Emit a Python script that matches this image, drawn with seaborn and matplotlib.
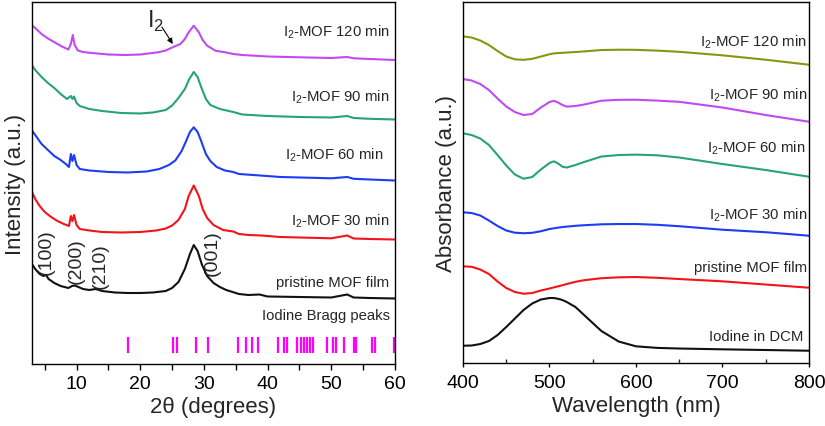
"""
XRD patterns and UV-vis spectra of iodine loaded MOF films
"""

# Libraries
import seaborn as sns
import matplotlib.pyplot as plt
from matplotlib.ticker import MultipleLocator

# ---------------------------------
# Data (arbitrary units with offsets)
# ---------------------------------
# XRD: pristine MOF film
xrd_pristine_x = [3.0, 3.5, 4.2, 4.8, 5.2, 5.6, 6.5, 7.5, 8.7, 9.3, 9.7, 10.3, 11, 12, 13, 14,
                  16, 18, 20, 22, 24, 25, 26, 27, 27.8, 28.4, 29, 29.7, 30.5, 31.5, 32.5,
                  33.5, 34.5, 35.5, 37, 38.7, 40, 45, 50, 52.5, 53.5, 56, 60]
xrd_pristine_y = [100, 95, 90, 88, 89, 85, 81, 78, 76, 78, 78.5, 77, 75, 74, 75, 73,
                  71.5, 71, 71, 71.5, 73, 76, 82, 95, 110, 119, 113, 99, 88, 81, 77,
                  74, 72, 70, 69, 69.5, 67.5, 67, 66.5, 69.5, 66.5, 66, 65.5]

# XRD: I2-MOF 30 min
xrd_30_x = [3.0, 3.5, 4.2, 5.0, 6.0, 7.0, 8.0, 8.8, 9.1, 9.35, 9.6, 10.0, 10.5, 12, 14, 17,
            20, 22.5, 24, 25, 26, 27, 27.6, 28.4, 29.2, 29.8, 30.5, 31.5, 33, 34.6, 35.5,
            37, 39, 42, 45, 50, 52.5, 53.5, 56, 60]
xrd_30_y = [172, 165, 158, 152, 147, 143, 140, 138, 148, 143, 149, 139, 135, 133.5, 132, 131.5,
            132, 133.5, 135.5, 138.5, 144, 155, 168, 178.5, 168, 155, 146, 139, 134, 132.5, 130,
            129, 128.5, 127, 126.5, 125.7, 128.5, 125.5, 125, 124.5]

# XRD: I2-MOF 60 min
xrd_60_x = [3.0, 3.5, 4.5, 5.5, 6.5, 7.5, 8.3, 8.8, 9.1, 9.35, 9.6, 10.0, 10.5, 12, 15, 18,
            21, 23, 24.5, 25.5, 26.5, 27.2, 27.8, 28.4, 29, 29.5, 30.3, 31, 32, 33.3, 34.6,
            35.5, 38.8, 42, 47, 50, 52.5, 53.5, 56, 60]
xrd_60_y = [233.5, 229, 220, 214, 208, 204, 200, 197, 210, 203, 209, 199, 195, 193.5, 192, 191.5,
            192.5, 195, 199, 203.5, 213, 223, 232, 236.7, 232, 224, 210, 203, 197, 193.5, 192,
            190, 188.5, 187, 186.2, 185.7, 187, 185.2, 184.5, 183.5]

# XRD: I2-MOF 90 min
xrd_90_x = [3.0, 3.5, 4.5, 5.5, 6.5, 7.5, 8.5, 9.1, 9.35, 9.6, 10.0, 10.5, 12, 14, 17, 20,
            22, 24, 25, 26, 27, 27.7, 28.4, 29, 29.5, 30.3, 31, 32.5, 34.6, 36, 40, 45,
            50, 52.5, 53.5, 56, 60]
xrd_90_y = [298.5, 294, 287, 281, 276, 270, 265, 268, 265, 267.5, 261, 258, 255, 253, 251, 250.5,
            251.5, 254, 258.5, 266, 275, 285, 292, 287, 278, 265, 259, 255, 252, 249.5, 248, 247,
            246.5, 248, 246, 245.2, 244.5]

# XRD: I2-MOF 120 min
xrd_120_x = [3.0, 3.5, 4.5, 5.5, 6.6, 7.7, 8.7, 9.1, 9.4, 9.7, 10.2, 11, 12.4, 15, 17.6, 20,
             22.8, 24, 25, 26.3, 27, 27.6, 28.4, 29.2, 29.8, 30.5, 31.8, 33.3, 34.6, 36, 40,
             45, 50, 52.5, 53.5, 56, 60]
xrd_120_y = [338.5, 336, 330, 325.5, 321.5, 317.5, 314.5, 320, 329, 319, 313.5, 312, 311, 309.5, 309, 309.5,
             311.7, 313.5, 316.5, 320, 325, 331.7, 338.3, 331.7, 324, 318.3, 313.3, 311.7, 310, 309, 307.5,
             306.7, 306, 307, 305.7, 305, 304]

# Iodine Bragg peak positions (2theta, degrees)
bragg_peaks = [18.1, 25.2, 25.7, 28.7, 30.7, 35.4, 36.6, 37.5, 38.5, 41.7, 42.6, 43.1,
               44.6, 45.3, 45.7, 46.2, 46.7, 47.2, 49.3, 50.3, 50.7, 52.0, 53.5, 53.9,
               56.4, 56.9, 59.8]

# UV-vis wavelength grid shared by the absorbance curves (nm)
wl = [400, 410, 420, 430, 440, 450, 460, 470, 480, 490, 500, 505, 510, 515, 520,
      530, 540, 560, 580, 600, 625, 650, 700, 750, 800]

# Absorbance curves (offset)
abs_120 = [326.7, 325.5, 322.5, 318, 312, 306.5, 303.7, 303.2, 304.2, 306.5, 308.8, 309.6, 310,
           310.2, 310.5, 311, 311.6, 313, 313.3, 313.2, 312.4, 311.2, 307.7, 303.3, 298.3]
abs_90 = [284, 282.5, 279, 273, 264.5, 256.5, 251, 248, 249, 255.5, 261, 262.2, 260.5,
          258, 256.4, 257, 258.5, 262.3, 263.2, 263.3, 262.4, 261.2, 255.5, 248, 241.3]
abs_60 = [229.7, 228, 224.5, 218, 208, 197.5, 188.5, 184.3, 186, 193.5, 200, 201.7, 199.5,
          196.3, 195.5, 198, 201, 206.5, 208, 208.4, 207.7, 205.5, 199, 193, 186.3]
abs_30 = [150.7, 150, 147.5, 142.5, 137, 132.5, 130.3, 129.8, 130.2, 131.8, 134, 134.7, 135.4,
          136, 136.4, 137.2, 137.8, 138.7, 139, 139, 138.2, 136.8, 133.3, 130.8, 127.3]
abs_pristine = [96.7, 96.2, 93.5, 89, 81.5, 75, 71, 69.3, 70, 72.5, 74.5, 75.6, 76.7,
                77.8, 79, 81.2, 82.8, 84.8, 85.7, 86, 85.2, 84, 81.7, 78.5, 75.3]
abs_iodine = [17.3, 17.5, 19, 22, 28, 36, 44.5, 53, 59.5, 63.5, 65, 65, 64.2,
              63, 61, 56, 48, 32, 21.5, 16.7, 15.1, 14.5, 13.7, 13, 12.3]

# Labels
xrd_labels = ["I$_\\mathregular{2}$-MOF 120 min", "I$_\\mathregular{2}$-MOF 90 min",
              "I$_\\mathregular{2}$-MOF 60 min", "I$_\\mathregular{2}$-MOF 30 min",
              "pristine MOF film", "Iodine Bragg peaks"]
uv_labels = ["I$_\\mathregular{2}$-MOF 120 min", "I$_\\mathregular{2}$-MOF 90 min",
             "I$_\\mathregular{2}$-MOF 60 min", "I$_\\mathregular{2}$-MOF 30 min",
             "pristine MOF film", "Iodine in DCM"]
miller = ["(100)", "(200)", "(210)", "(001)"]

# ---------------------------------
# Style
# ---------------------------------
sns.set_theme(style="ticks")
plt.rcParams['font.family'] = ['Liberation Sans', 'DejaVu Sans']
plt.rcParams['mathtext.fontset'] = 'custom'
plt.rcParams['mathtext.rm'] = 'Liberation Sans'
plt.rcParams['axes.edgecolor'] = 'black'
plt.rcParams['axes.linewidth'] = 1.0

xrd_colors = ['#c04af2', '#27a27a', '#1d3cf5', '#f5131a', '#111111']
uv_colors = ['#8a9612', '#c04af2', '#27a27a', '#1d3cf5', '#f5131a', '#111111']

# ------------------------------------------------
# Plot
# ------------------------------------------------
f = plt.figure(figsize=(8.25, 4.27), dpi=100)
ax1 = f.add_axes([0.0388, 0.1452, 0.440, 0.8478])
ax2 = f.add_axes([0.5612, 0.1475, 0.4194, 0.8454])

# XRD curves
xrd = [(xrd_120_x, xrd_120_y), (xrd_90_x, xrd_90_y), (xrd_60_x, xrd_60_y),
       (xrd_30_x, xrd_30_y), (xrd_pristine_x, xrd_pristine_y)]
for (x, y), c in zip(xrd, xrd_colors):
    sns.lineplot(x=x, y=y, ax=ax1, color=c, linewidth=1.5, sort=False)

# Bragg peaks
ax1.vlines(bragg_peaks, 10.7, 27.3, color='#ff00ff', linewidth=1.6)

ax1.set_xlim(3, 60)
ax1.set_ylim(0, 362)
ax1.set_yticks([])
ax1.xaxis.set_major_locator(MultipleLocator(10))
ax1.xaxis.set_minor_locator(MultipleLocator(5))
ax1.tick_params(axis='x', which='both', direction='out', length=4, width=1,
                labelsize=14, colors='black', pad=4)
ax1.set_xlabel("2θ (degrees)", fontsize=16, labelpad=3)
ax1.set_ylabel("Intensity (a.u.)", fontsize=16, labelpad=4)

# Curve labels
for lab, (xx, yy) in zip(xrd_labels, [(59.1, 333), (59.1, 268), (58.1, 210),
                                        (59.1, 144), (59.1, 81.7), (59.2, 49)]):
    ax1.text(xx, yy, lab, ha='right', va='center', fontsize=10.7)

# Miller indices
for lab, (xx, yy) in zip(miller, [(5.3, 113), (10.0, 104), (13.7, 99), (31.25, 112)]):
    ax1.text(xx, yy, lab, rotation=90, ha='center', va='center', fontsize=14)

# I2 shoulder annotation
ax1.text(22.4, 344, "I$_\\mathregular{2}$", fontsize=17, ha='center', va='center')
ax1.annotate("", xy=(25.1, 320), xytext=(23.4, 337),
             arrowprops=dict(arrowstyle='-|>', color='black', lw=0.8,
                             shrinkA=0, shrinkB=0, mutation_scale=8))

# UV-vis curves
for y, c in zip([abs_120, abs_90, abs_60, abs_30, abs_pristine, abs_iodine], uv_colors):
    sns.lineplot(x=wl, y=y, ax=ax2, color=c, linewidth=1.5)

ax2.set_xlim(400, 800)
ax2.set_ylim(0, 361)
ax2.set_yticks([])
ax2.xaxis.set_major_locator(MultipleLocator(100))
ax2.xaxis.set_minor_locator(MultipleLocator(50))
ax2.tick_params(axis='x', which='major', direction='out', length=3, width=1,
                labelsize=14, colors='black', pad=5)
ax2.tick_params(axis='x', which='minor', direction='in', length=3, width=1)
ax2.set_xlabel("Wavelength (nm)", fontsize=16, labelpad=3)
ax2.set_ylabel("Absorbance (a.u.)", fontsize=16, labelpad=4)

for lab, (xx, yy) in zip(uv_labels, [(797.7, 322.3), (797.7, 269), (796, 215.7),
                                       (797.7, 149), (797.7, 95.7), (794, 27.3)]):
    ax2.text(xx, yy, lab, ha='right', va='center', fontsize=10.7)

# Save
f.savefig("out.png", dpi=100)
